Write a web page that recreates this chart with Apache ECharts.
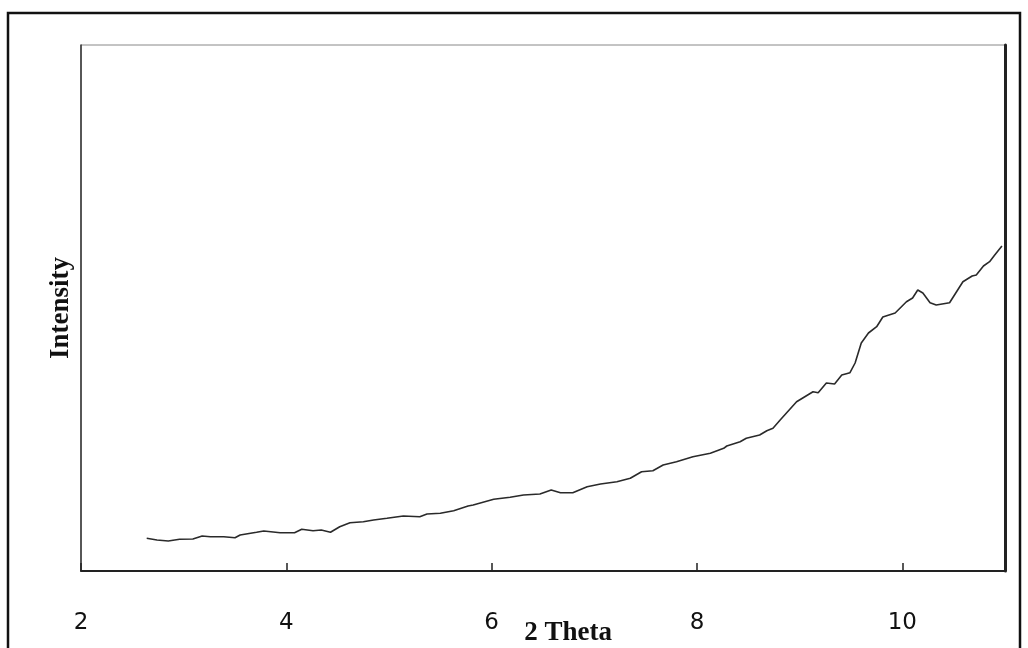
<!DOCTYPE html>
<html>
<head>
<meta charset="utf-8">
<script src="https://cdn.jsdelivr.net/npm/echarts@6/dist/echarts.min.js"></script>
<style>
  html, body { margin: 0; padding: 0; background: #fff; }
  #chart { width: 1028px; height: 648px; }
</style>
</head>
<body>
<div id="chart"></div>
<script>
// 2 theta positions (degrees)
const twoTheta = [
  2.64, 2.74, 2.85, 2.96, 3.09, 3.18, 3.26, 3.39, 3.50, 3.55,
  3.71, 3.78, 3.94, 4.08, 4.15, 4.26, 4.34, 4.43, 4.52, 4.62,
  4.75, 4.85, 4.98, 5.14, 5.30, 5.37, 5.50, 5.63, 5.77, 5.82,
  6.02, 6.18, 6.31, 6.47, 6.58, 6.67, 6.79, 6.93, 7.06, 7.22,
  7.35, 7.46, 7.57, 7.67, 7.80, 7.96, 8.13, 8.26, 8.29, 8.42,
  8.48, 8.61, 8.68, 8.74, 8.81, 8.97, 9.13, 9.18, 9.26, 9.34,
  9.41, 9.49, 9.54, 9.60, 9.67, 9.75, 9.81, 9.93, 10.04, 10.10,
  10.15, 10.20, 10.27, 10.33, 10.46, 10.59, 10.68, 10.72, 10.79, 10.85,
  10.90, 10.97
];
// intensity (arbitrary units, no scale shown)
const intensity = [
  32.7, 31, 30, 31.7, 32, 35, 34.3, 34.3, 33.3, 36,
  38.7, 40, 38.3, 38.3, 41.7, 40.3, 41, 38.7, 44.3, 48.3,
  49.3, 51, 52.7, 55, 54.3, 57, 57.7, 60.3, 65, 66,
  71.7, 73.7, 76, 77, 81, 78.3, 78.3, 84.3, 87, 89.3,
  92.7, 99.3, 100.3, 106, 109.3, 114.3, 117.7, 122.7, 125, 129.3,
  132.7, 136, 140.3, 142.7, 151, 169.3, 179.3, 178.3, 188, 187,
  196, 198.3, 208, 228, 238, 244.3, 254, 258, 269.3, 273,
  281, 278, 268.3, 266, 268.3, 289.3, 295, 296, 305, 309.3,
  316, 325
];
const xTicks = [2, 4, 6, 8, 10];

const data = twoTheta.map((x, i) => [x, intensity[i]]);

const chart = echarts.init(document.getElementById('chart'));
const option = {
  backgroundColor: '#fff',
  animation: false,
  graphic: [
    {
      type: 'rect',
      shape: { x: 8, y: 13, width: 1012, height: 660 },
      style: { fill: 'none', stroke: '#111', lineWidth: 2.5 }
    }
  ],
  grid: {
    left: 81, top: 45, right: 23, bottom: 77,
    outerBoundsMode: 'none',
    show: true, borderColor: '#888', borderWidth: 1
  },
  xAxis: {
    type: 'value',
    min: 2, max: 11, interval: 2,
    name: '2 Theta',
    nameLocation: 'middle',
    nameGap: 49,
    nameMoveOverlap: false,
    nameTextStyle: {
      fontFamily: 'Liberation Serif', fontWeight: 'bold', fontSize: 27,
      color: '#111', padding: [0, 0, 0, 50]
    },
    axisLine: { show: true, lineStyle: { color: '#222', width: 2 } },
    axisTick: { show: true, inside: true, length: 8, lineStyle: { color: '#222', width: 1.5 } },
    axisLabel: {
      margin: 41, showMaxLabel: false,
      fontFamily: 'DejaVu Sans', fontSize: 23, color: '#111',
      formatter: (v) => (xTicks.includes(v) ? String(v) : '')
    },
    splitLine: { show: false }
  },
  yAxis: [
    {
      type: 'value', min: 0, max: 526,
      name: 'Intensity',
      nameLocation: 'middle',
      nameGap: 6,
      nameMoveOverlap: false,
      nameTextStyle: {
        fontFamily: 'Liberation Serif', fontWeight: 'bold', fontSize: 27, color: '#111'
      },
      axisLine: { show: true, lineStyle: { color: '#333', width: 1.5 } },
      axisTick: { show: false },
      axisLabel: { show: false },
      splitLine: { show: false }
    },
    {
      type: 'value', min: 0, max: 526, position: 'right',
      axisLine: { show: true, lineStyle: { color: '#222', width: 3 } },
      axisTick: { show: false },
      axisLabel: { show: false },
      splitLine: { show: false }
    }
  ],
  series: [
    {
      type: 'line',
      data: data,
      showSymbol: false,
      lineStyle: { color: '#2a2a2a', width: 1.6 }
    }
  ]
};
chart.setOption(option);
</script>
</body>
</html>
